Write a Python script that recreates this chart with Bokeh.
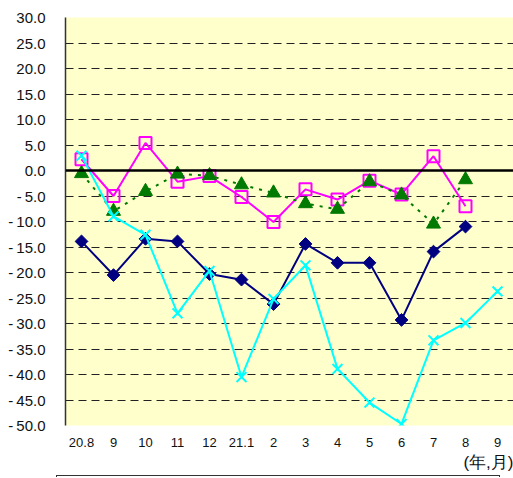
import numpy as np
from bokeh.plotting import figure
from bokeh.models import Range1d, FixedTicker, Span, Title, Div
from bokeh.layouts import column
from bokeh.embed import file_html
from bokeh.resources import INLINE

# ---- data ----
x_labels = ["20.8", "9", "10", "11", "12", "21.1", "2", "3", "4", "5", "6", "7", "8", "9"]
y_ticks = [30, 25, 20, 15, 10, 5, 0, -5, -10, -15, -20, -25, -30, -35, -40, -45, -50]

navy_vals = [-13.9, -20.5, -13.4, -13.9, -20.3, -21.4, -26.2, -14.4, -18.1, -18.1, -29.3, -15.9, -11.0, np.nan]
cyan_vals = [2.9, -9.0, -12.6, -28.0, -19.7, -40.5, -25.2, -18.6, -38.9, -45.5, -49.7, -33.3, -29.9, -23.7]
magenta_vals = [2.2, -5.0, 5.4, -2.2, -1.1, -5.2, -10.1, -3.7, -5.7, -2.0, -4.7, 2.8, -7.0, np.nan]
green_vals = [-0.6, -8.0, -4.1, -0.7, -1.0, -2.8, -4.4, -6.5, -7.6, -2.2, -4.8, -10.5, -1.8, np.nan]

xs = list(range(len(x_labels)))

FONT = "Liberation Sans"


def ylab(v):
    s = f"{abs(v):.1f}"
    return ("-\u2009" + s) if v < 0 else s


p = figure(width=513, height=475, output_backend="svg", toolbar_location=None,
           x_range=Range1d(-0.5, len(x_labels) - 0.5), y_range=Range1d(-50, 30),
           min_border_left=65, min_border_top=17, min_border_right=0, min_border_bottom=50)
p.background_fill_color = "#FFFFCC"
p.border_fill_color = "white"
p.outline_line_color = None

# axes
p.xaxis.ticker = FixedTicker(ticks=xs)
p.xaxis.major_label_overrides = {i: s for i, s in enumerate(x_labels)}
p.xaxis.axis_line_color = None
p.xaxis.major_tick_line_color = None
p.xaxis.major_tick_out = 0
p.xaxis.minor_tick_line_color = None
p.xaxis.major_label_standoff = 12
p.xaxis.major_label_text_font = FONT
p.xaxis.major_label_text_font_size = "13px"
p.xaxis.major_label_text_color = "#111111"

p.yaxis.ticker = FixedTicker(ticks=y_ticks)
p.yaxis.major_label_overrides = {v: ylab(v) for v in y_ticks}
p.yaxis.axis_line_color = "#333333"
p.yaxis.axis_line_width = 1.5
p.yaxis.major_tick_line_color = None
p.yaxis.major_tick_out = 0
p.yaxis.minor_tick_line_color = None
p.yaxis.major_label_standoff = 20
p.yaxis.major_label_text_font = FONT
p.yaxis.major_label_text_font_size = "15px"
p.yaxis.major_label_text_color = "#111111"

p.xgrid.grid_line_color = None
p.ygrid.ticker = FixedTicker(ticks=y_ticks)
p.ygrid.grid_line_color = "#222222"
p.ygrid.grid_line_dash = "8 5"
p.ygrid.grid_line_width = 1

p.add_layout(Span(location=0, dimension="width", line_color="black", line_width=2.5))

# series
p.line(xs, navy_vals, line_color="#000080", line_width=2)
p.scatter(xs, navy_vals, marker="square", angle=np.pi / 4, size=9,
          fill_color="#000080", line_color="#000080")

p.line(xs, magenta_vals, line_color="#FF00FF", line_width=2)
p.scatter(xs, magenta_vals, marker="square", size=12, fill_color=None,
          line_color="#FF00FF", line_width=2)

p.line(xs, green_vals, line_color="#007A00", line_width=2, line_dash="3 6")
p.scatter(xs, green_vals, marker="triangle", size=14, fill_color="#007A00",
          line_color="#007A00")

p.line(xs, cyan_vals, line_color="#00FFFF", line_width=2)
p.scatter(xs, cyan_vals, marker="x", size=14, line_color="#00FFFF", line_width=2)

p.add_layout(Title(text="(年,月)", align="right", text_font=FONT,
                   text_font_size="17px", text_font_style="normal",
                   text_color="#111111", standoff=3), "below")

box = Div(text="", width=444, height=2, margin=(0, 0, 0, 56),
          styles={"border-top": "1px solid #333", "border-left": "1px solid #333",
                  "border-right": "1px solid #333"})

open("out.html", "w").write(file_html(column(p, box, spacing=0), INLINE))
